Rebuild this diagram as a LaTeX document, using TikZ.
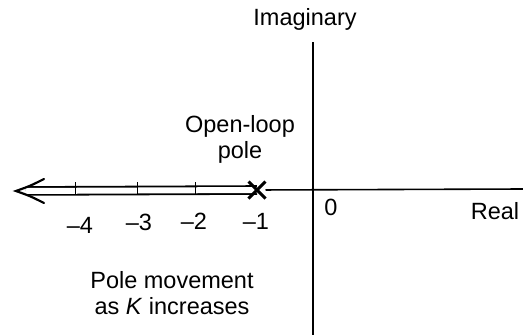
\documentclass[tikz,border=0pt]{standalone}
\usepackage{fontspec}
\setmainfont{Liberation Sans}
\usetikzlibrary{arrows.meta, shapes.misc, positioning}

\begin{document}
\begin{tikzpicture}[
    x=1pt, y=-1pt,
    axis/.style={line width=1.6pt},
    locus/.style={double, double distance=6pt, line width=1.8pt, shorten >=10pt},
    head/.style={line width=2.2pt, line cap=round},
    tick/.style={line width=1pt},
    pole/.style={cross out, draw, line width=3pt, minimum size=14pt, inner sep=0pt},
    lbl/.style={font=\fontsize{23.5}{26}\selectfont, align=center, inner sep=0pt}
]
    \useasboundingbox (0,0) rectangle (523,335);

    % axes
    \coordinate (origin) at (313,190);
    \coordinate (imtop) at (313,42);
    \coordinate (imbot) at (313,335);
    \coordinate (reend) at (523,189);
    \coordinate (polept) at (257,190);
    \coordinate (tip) at (16,191);
    \draw[axis] (imtop) -- (imbot);

    % pole movement, then the open-loop pole on top
    \draw[locus] (polept) -- (tip);
    \draw[head] ([shift={(28,-12)}]tip) .. controls ([shift={(14,-5)}]tip) .. (tip)
        .. controls ([shift={(14,5)}]tip) .. ([shift={(28,12)}]tip);
    \foreach \xx in {75, 137, 195}
        \draw[tick] (\xx,182) -- (\xx,195);
    \node[pole] (p1) at (polept) {};
    \draw[axis] (p1) -- (reend);

    % labels
    \node[lbl, anchor=base] (imag) at (305,25) {Imaginary};
    \node[lbl, anchor=base] (real) at (495,219) {Real};
    \node[lbl, anchor=base] (zero) at (331,215) {0};
    \node[lbl, anchor=base] (m1) at (256,229) {–1};
    \node[lbl, anchor=base] (m2) at (194,229) {–2};
    \node[lbl, anchor=base] (m3) at (139,230) {–3};
    \node[lbl, anchor=base] (m4) at (80,233) {–4};
    \node[lbl, anchor=north] (openpole) at (240,115) {Open-loop\\pole};
    \node[lbl, anchor=north] (movement) at (172,271) {Pole movement\\as \textit{K} increases};
\end{tikzpicture}
\end{document}
